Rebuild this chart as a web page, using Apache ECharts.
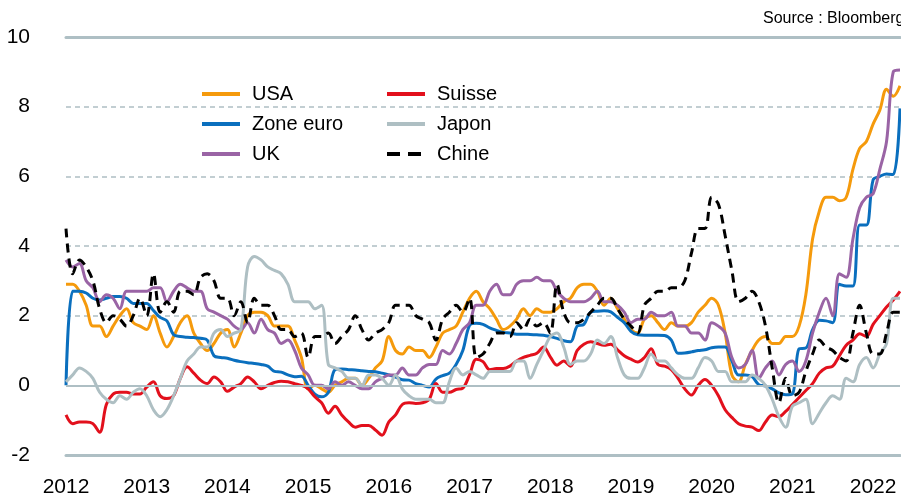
<!DOCTYPE html>
<html>
<head>
<meta charset="utf-8">
<script src="https://cdn.jsdelivr.net/npm/echarts@6/dist/echarts.min.js"></script>
<style>
  html, body { margin: 0; padding: 0; background: #fff; }
  #chart { width: 901px; height: 499px; }
</style>
</head>
<body>
<div id="chart"></div>
<script>
// Monthly categories, Jan 2012 .. May 2022
const months = [];
for (let y = 2012; y <= 2022; y++) {
  for (let m = 1; m <= 12; m++) {
    if (y === 2022 && m > 5) break;
    months.push(y + '-' + (m < 10 ? '0' + m : m));
  }
}

const yTicks = [-2, 0, 2, 4, 6, 8, 10];

// Inflation, % y/y
const usa = [
  2.9, 2.9, 2.7, 2.3, 1.7, 1.7, 1.4, 1.7, 2.0, 2.2, 1.8, 1.7,
  1.6, 2.0, 1.5, 1.1, 1.4, 1.8, 2.0, 1.5, 1.2, 1.0, 1.2, 1.5,
  1.6, 1.1, 1.5, 2.0, 2.1, 2.1, 2.0, 1.7, 1.7, 1.7, 1.3, 0.8,
  -0.1, 0.0, -0.1, -0.2, 0.0, 0.1, 0.2, 0.2, 0.0, 0.2, 0.5, 0.7,
  1.4, 1.0, 0.9, 1.1, 1.0, 1.0, 0.8, 1.1, 1.5, 1.6, 1.7, 2.1,
  2.5, 2.7, 2.4, 2.2, 1.9, 1.6, 1.7, 1.9, 2.2, 2.0, 2.2, 2.1,
  2.1, 2.2, 2.4, 2.5, 2.8, 2.9, 2.9, 2.7, 2.3, 2.5, 2.2, 1.9,
  1.6, 1.5, 1.9, 2.0, 1.8, 1.6, 1.8, 1.7, 1.7, 1.8, 2.1, 2.3,
  2.5, 2.3, 1.5, 0.3, 0.1, 0.6, 1.0, 1.3, 1.4, 1.2, 1.2, 1.4,
  1.4, 1.7, 2.6, 4.2, 5.0, 5.4, 5.4, 5.3, 5.4, 6.2, 6.8, 7.0,
  7.5, 7.9, 8.5, 8.3, 8.6
];

const zoneEuro = [
  0.0, 2.7, 2.7, 2.65, 2.5, 2.45, 2.5, 2.55, 2.55, 2.5, 2.35, 2.35,
  2.35, 2.15, 1.95, 1.85, 1.45, 1.4, 1.38, 1.37, 1.35, 1.3, 0.85, 0.8,
  0.78, 0.72, 0.68, 0.65, 0.63, 0.6, 0.55, 0.4, 0.38, 0.3, 0.25, 0.26,
  0.0, -0.25, -0.33, -0.2, 0.45, 0.47, 0.45, 0.44, 0.42, 0.4, 0.39, 0.35,
  0.3, 0.24, 0.16, 0.15, 0.05, 0.0, -0.05, 0.18, 0.28, 0.35, 0.6, 1.0,
  1.72, 1.78, 1.75, 1.65, 1.58, 1.52, 1.5, 1.47, 1.47, 1.46, 1.45, 1.44,
  1.4, 1.35, 1.28, 1.25, 1.7, 1.75, 2.1, 2.13, 2.14, 2.11, 1.95, 1.8,
  1.55, 1.45, 1.44, 1.44, 1.44, 1.43, 1.3, 0.92, 0.93, 0.96, 1.0, 1.02,
  1.08, 1.1, 1.1, 0.7, 0.3, 0.3, 0.25, 0.02, -0.02, -0.1, -0.22, -0.27,
  -0.25, 1.05, 1.07, 1.6, 1.87, 1.85, 1.8, 2.9, 2.85, 2.85, 4.6, 4.6,
  5.9, 6.0, 6.07, 6.05, 7.95
];

const uk = [
  3.6, 3.4, 3.5, 3.0, 2.8, 2.4, 2.6, 2.5, 2.2, 2.7, 2.7, 2.7,
  2.7, 2.8, 2.8, 2.4, 2.7, 2.9, 2.8, 2.7, 2.7, 2.2, 2.1, 2.0,
  1.9, 1.7, 1.6, 1.8, 1.5, 1.9, 1.6, 1.5, 1.2, 1.3, 1.0, 0.5,
  0.3, 0.0, 0.0, -0.1, 0.1, 0.0, 0.1, 0.0, -0.1, -0.1, 0.1, 0.2,
  0.3, 0.3, 0.5, 0.3, 0.3, 0.5, 0.6, 0.6, 1.0, 0.9, 1.2, 1.6,
  1.8, 2.3, 2.3, 2.7, 2.9, 2.6, 2.6, 2.9, 3.0, 3.0, 3.1, 3.0,
  3.0, 2.7, 2.5, 2.4, 2.4, 2.4, 2.5, 2.7, 2.4, 2.4, 2.3, 2.1,
  1.8, 1.9, 1.9, 2.1, 2.0, 2.0, 2.1, 1.7, 1.7, 1.5, 1.5, 1.3,
  1.8, 1.7, 1.5, 0.8, 0.5, 0.6, 1.0, 0.2, 0.5, 0.7, 0.3, 0.6,
  0.7, 0.4, 0.7, 1.5, 2.1, 2.5, 2.0, 3.2, 3.1, 4.2, 5.1, 5.4,
  5.5, 6.2, 7.0, 9.0, 9.05
];

const suisse = [
  -0.85, -1.1, -1.05, -1.05, -1.1, -1.35, -0.55, -0.25, -0.2, -0.2, -0.25, -0.25,
  -0.05, 0.1, -0.3, -0.38, -0.3, 0.2, 0.53, 0.35, 0.15, 0.05, 0.24, 0.1,
  -0.17, -0.05, 0.05, 0.24, 0.1, -0.1, 0.0, 0.08, 0.12, 0.1, 0.05, 0.0,
  -0.1, -0.33, -0.5, -0.8, -0.6, -0.85, -1.05, -1.2, -1.15, -1.15, -1.28, -1.43,
  -1.05, -0.85, -0.55, -0.5, -0.52, -0.5, -0.4, 0.05, -0.2, -0.2, -0.12, -0.08,
  0.3, 0.75, 0.68, 0.45, 0.48, 0.48, 0.55, 0.7, 0.8, 0.86, 0.92, 1.1,
  0.82, 0.58, 0.7, 0.55, 1.0, 1.18, 1.25, 1.2, 1.15, 1.18, 1.02, 0.85,
  0.75, 0.67, 0.8, 1.05, 0.6, 0.55, 0.45, 0.2, -0.1, -0.28, 0.0, 0.17,
  0.0, -0.3, -0.7, -0.92, -1.1, -1.17, -1.2, -1.3, -1.05, -0.85, -0.9, -0.75,
  -0.55, -0.35, -0.15, 0.05, 0.35, 0.5, 0.55, 0.85, 1.15, 1.3, 1.48, 1.4,
  1.75, 2.0, 2.25, 2.45, 2.7
];

const japon = [
  0.1, 0.3, 0.5, 0.4, 0.2, -0.2, -0.4, -0.5, -0.3, -0.4, -0.2, -0.1,
  -0.3, -0.7, -0.9, -0.7, -0.3, 0.2, 0.7, 0.9, 1.1, 1.1, 1.5, 1.6,
  1.4, 1.5, 1.6, 3.4, 3.7, 3.6, 3.4, 3.3, 3.2, 2.9, 2.4, 2.4,
  2.4, 2.2, 2.3, 0.6, 0.5, 0.4, 0.2, 0.2, 0.0, 0.3, 0.3, 0.2,
  0.0, 0.3, -0.1, -0.3, -0.4, -0.4, -0.4, -0.5, -0.5, 0.1, 0.5, 0.3,
  0.4, 0.3, 0.2, 0.4, 0.4, 0.4, 0.4, 0.7, 0.7, 0.2, 0.6, 1.0,
  1.4, 1.5, 1.1, 0.6, 0.7, 0.7, 0.9, 1.3, 1.2, 1.4, 0.8, 0.3,
  0.2, 0.2, 0.5, 0.9, 0.7, 0.7, 0.5, 0.3, 0.2, 0.2, 0.5, 0.8,
  0.7, 0.4, 0.4, 0.1, 0.1, 0.1, 0.3, 0.2, 0.0, -0.4, -0.9, -1.2,
  -0.6, -0.5, -0.4, -1.1, -0.8, -0.5, -0.3, -0.4, 0.2, 0.1, 0.6, 0.8,
  0.5, 0.9, 1.2, 2.5, 2.5
];

const chine = [
  4.5, 3.2, 3.6, 3.4, 3.0, 2.2, 1.8, 2.0, 1.9, 1.7, 2.0, 2.5,
  2.0, 3.2, 2.1, 2.4, 2.1, 2.7, 2.7, 2.6, 3.1, 3.2, 3.0, 2.5,
  2.5, 2.0, 2.4, 1.8, 2.5, 2.3, 2.3, 2.0, 1.6, 1.6, 1.4, 1.5,
  0.8, 1.4, 1.4, 1.5, 1.2, 1.4, 1.6, 2.0, 1.6, 1.3, 1.5, 1.6,
  1.8, 2.3, 2.3, 2.3, 2.0, 1.9, 1.8, 1.3, 1.9, 2.1, 2.3, 2.1,
  2.5, 0.8, 0.9, 1.2, 1.5, 1.5, 1.4, 1.8, 1.6, 1.9, 1.7, 1.8,
  1.5, 2.9, 2.1, 1.8, 1.8, 1.9, 2.1, 2.3, 2.5, 2.5, 2.2, 1.9,
  1.7, 1.5, 2.3, 2.5, 2.7, 2.7, 2.8, 2.8, 3.0, 3.8, 4.5, 4.5,
  5.4, 5.2, 4.3, 3.3, 2.4, 2.5, 2.7, 2.4, 1.7, 0.5, -0.5, 0.2,
  -0.3, -0.2, 0.4, 0.9, 1.3, 1.1, 1.0, 0.8, 0.7, 1.5, 2.3, 1.5,
  0.9, 0.9, 1.5, 2.1, 2.1
];

const FONT = '"Liberation Sans", Arial, sans-serif';
const GRID_COLOR = '#aebfc4';

const chart = echarts.init(document.getElementById('chart'), null, { renderer: 'canvas' });

const lineSeries = (name, data, color, extra) => Object.assign({
  name: name,
  type: 'line',
  data: data,
  smooth: 0.35,
  symbol: 'none',
  showSymbol: false,
  lineStyle: { color: color, width: 3 },
  itemStyle: { color: color },
  emphasis: { disabled: true },
  animation: false
}, extra || {});

// legend: plain line icons, no symbol dot
const legendBase = {
  orient: 'vertical',
  top: 79,
  itemWidth: 38,
  itemHeight: 14,
  itemGap: 10,
  selectedMode: false,
  itemStyle: { opacity: 0 },
  lineStyle: { width: 4 },
  textStyle: { fontFamily: FONT, fontSize: 20, color: '#000', lineHeight: 20, padding: [0, 0, 0, 7] }
};

const option = {
  backgroundColor: '#fff',
  animation: false,
  grid: { left: 66, right: 1, top: 37, bottom: 44, containLabel: false, outerBoundsMode: 'none' },
  legend: [
    Object.assign({}, legendBase, { left: 195, data: ['USA', 'Zone euro', 'UK'] }),
    Object.assign({}, legendBase, {
      left: 380,
      data: ['Suisse', 'Japon', { name: 'Chine', lineStyle: { type: [13, 8], width: 4 } }]
    })
  ],
  graphic: [{
    type: 'text',
    left: 763,
    top: 11,
    style: { text: 'Source : Bloomberg', fontFamily: FONT, fontSize: 16, fill: '#000' }
  }],
  xAxis: [{
    type: 'category',
    data: months,
    boundaryGap: false,
    axisLine: { show: true, onZero: false, lineStyle: { color: GRID_COLOR, width: 3 } },
    axisTick: { show: false },
    axisLabel: {
      interval: (idx) => idx % 12 === 0,
      formatter: (v) => v.slice(0, 4),
      color: '#000',
      fontFamily: FONT,
      fontSize: 21,
      margin: 22
    },
    splitLine: { show: false }
  }, {
    type: 'category',
    data: months,
    position: 'top',
    boundaryGap: false,
    axisLine: { show: true, onZero: false, lineStyle: { color: GRID_COLOR, width: 3 } },
    axisTick: { show: false },
    axisLabel: { show: false },
    splitLine: { show: false }
  }],
  yAxis: {
    type: 'value',
    min: yTicks[0],
    max: yTicks[yTicks.length - 1],
    interval: 2,
    axisLine: { show: false },
    axisTick: { show: false },
    axisLabel: {
      color: '#000',
      fontFamily: FONT,
      fontSize: 21,
      margin: 36,
      formatter: (v) => (v < 0 ? '-' + Math.abs(v) : String(v))
    },
    splitLine: { show: true, lineStyle: { color: GRID_COLOR, width: 1.5, type: [5, 4] } }
  },
  series: [
    lineSeries('USA', usa, '#f59a0c', {
      markLine: {
        silent: true,
        symbol: 'none',
        label: { show: false },
        animation: false,
        data: [
          { yAxis: 0, lineStyle: { color: GRID_COLOR, width: 2, type: 'solid' } }
        ]
      }
    }),
    lineSeries('Zone euro', zoneEuro, '#0a6fbe'),
    lineSeries('UK', uk, '#9a64a5'),
    lineSeries('Suisse', suisse, '#e2101c'),
    lineSeries('Japon', japon, '#aebfc3'),
    lineSeries('Chine', chine, '#000000', { lineStyle: { color: '#000', width: 3, type: [9, 6] } })
  ]
};

chart.setOption(option);
</script>
</body>
</html>
